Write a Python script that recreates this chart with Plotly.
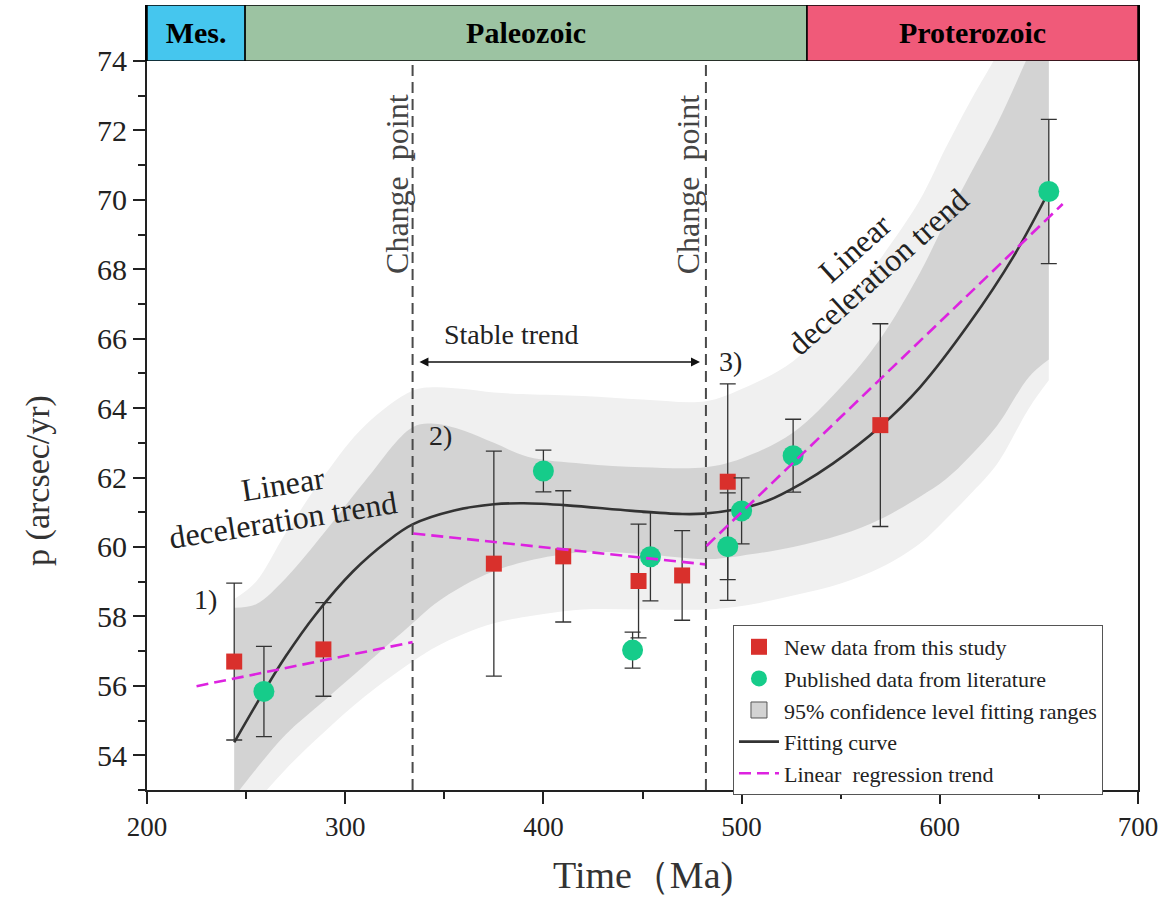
import plotly.graph_objects as go

# ---------------- data ----------------
new_x = [244, 289, 375, 410, 448, 470, 493, 570]
new_y = [56.70, 57.05, 59.52, 59.73, 59.02, 59.18, 61.88, 63.51]
new_err = [2.26, 1.35, 3.24, 1.89, 1.64, 1.29, 2.82, 2.92]

pub_x = [259, 400, 445, 454, 493, 500, 526, 655]
pub_y = [55.84, 62.19, 57.03, 59.72, 60.01, 61.04, 62.63, 70.24]
pub_err = [1.30, 0.60, 0.52, 1.27, 1.55, 0.95, 1.05, 2.08]

fit_x = [244, 259, 270, 285, 304, 321, 334, 355, 375, 390, 412, 445, 470, 481,
         496, 513, 530, 546, 570, 590, 615, 637, 655]
fit_y = [54.37, 55.84, 56.85, 58.05, 59.3, 60.15, 60.65, 61.05, 61.23, 61.26, 61.2,
         61.04, 60.95, 60.96, 61.07, 61.33, 61.82, 62.4, 63.47, 64.6, 66.45, 68.35, 70.24]

band_x = [244, 255, 270, 290, 310, 334, 345, 360, 375, 392, 420, 450, 482, 500,
          526, 550, 570, 590, 603, 615, 629, 645, 655]
inner_hi = [58.25, 58.35, 59.1, 60.45, 61.9, 63.45, 63.55, 63.35, 63.0, 62.6, 62.4,
            62.3, 62.3, 62.55, 63.3, 64.6, 66.0, 67.9, 69.4, 70.7, 72.2, 74.2, 75.5]
inner_lo = [52.8, 53.6, 54.6, 55.6, 56.6, 57.8, 58.35, 58.9, 59.3, 59.6, 59.85,
            59.8, 59.65, 59.75, 60.0, 60.35, 60.8, 61.45, 61.95, 62.6, 63.5, 64.9, 65.4]
outer_hi = [58.5, 59.0, 60.4, 62.1, 63.5, 64.5, 64.6, 64.55, 64.45, 64.4, 64.35,
            64.25, 64.2, 64.55, 65.35, 66.8, 68.3, 70.0, 71.5, 72.8, 74.2, 76.0, 77.0]
outer_lo = [51.5, 52.6, 53.6, 54.7, 55.7, 56.7, 57.1, 57.5, 57.8, 58.0, 58.2,
            58.2, 58.2, 58.3, 58.6, 58.95, 59.4, 60.1, 60.8, 61.5, 62.4, 64.0, 64.8]

trend1_x = [225, 334]
trend1_y = [55.99, 57.26]
trend2_x = [334.4, 481.6]
trend2_y = [60.39, 59.50]
trend3_x = [482.3, 662]
trend3_y = [60.03, 69.88]

change_points = [334, 482]

eras = ["Mes.", "Paleozoic", "Proterozoic"]
era_start = [200, 249.5, 533]
era_end = [249.5, 533, 700]
era_colors = ["#45C6EE", "#9CC3A2", "#F05A79"]

SERIF = "Liberation Serif, Times New Roman, serif"
MAGENTA = "#DD22E0"

fig = go.Figure()

# confidence bands
fig.add_trace(go.Scatter(x=band_x, y=outer_lo, mode="lines", line=dict(width=0, shape="spline"),
                         showlegend=False, hoverinfo="skip"))
fig.add_trace(go.Scatter(x=band_x, y=outer_hi, mode="lines", line=dict(width=0, shape="spline"),
                         fill="tonexty", fillcolor="#F0F0F0", showlegend=False, hoverinfo="skip"))
fig.add_trace(go.Scatter(x=band_x, y=inner_lo, mode="lines", line=dict(width=0, shape="spline"),
                         showlegend=False, hoverinfo="skip"))
fig.add_trace(go.Scatter(x=band_x, y=inner_hi, mode="lines", line=dict(width=0, shape="spline"),
                         fill="tonexty", fillcolor="#D3D3D3", showlegend=False, hoverinfo="skip"))
# legend entry for band
fig.add_trace(go.Scatter(x=[None], y=[None], mode="markers",
                         marker=dict(symbol="square", size=16, color="#D3D3D3",
                                     line=dict(color="#555555", width=1)),
                         name="95% confidence level fitting ranges", legendrank=3))

# fitting curve
fig.add_trace(go.Scatter(x=fit_x, y=fit_y, mode="lines",
                         line=dict(color="#333333", width=2.6, shape="spline"),
                         name="Fitting curve", legendrank=4))

# change point lines
for cp in change_points:
    fig.add_trace(go.Scatter(x=[cp, cp], y=[53, 74], mode="lines",
                             line=dict(color="#4A4A4A", width=2, dash="11px,6px"),
                             showlegend=False, hoverinfo="skip"))

# data
fig.add_trace(go.Scatter(x=new_x, y=new_y, mode="markers",
                         marker=dict(symbol="square", size=16, color="#D9302C"),
                         error_y=dict(type="data", array=new_err, color="#333333",
                                      thickness=1.3, width=8),
                         name="New data from this study", legendrank=1))
fig.add_trace(go.Scatter(x=pub_x, y=pub_y, mode="markers",
                         marker=dict(symbol="circle", size=21, color="#16CC8A"),
                         error_y=dict(type="data", array=pub_err, color="#333333",
                                      thickness=1.3, width=8),
                         name="Published data from literature", legendrank=2))

# linear regression trends
for i, (tx, ty) in enumerate([(trend1_x, trend1_y), (trend2_x, trend2_y), (trend3_x, trend3_y)]):
    fig.add_trace(go.Scatter(x=tx, y=ty, mode="lines",
                             line=dict(color=MAGENTA, width=2.6, dash="12px,6px"),
                             name="Linear  regression trend", legendgroup="trend",
                             showlegend=(i == 0), legendrank=5))

# era bar on top
for name, s, e, c in zip(eras, era_start, era_end, era_colors):
    fig.add_trace(go.Bar(y=[0], x=[e - s], base=[s], orientation="h", width=1,
                         marker=dict(color=c, line=dict(color="black", width=1.5)),
                         text=["<b>" + name + "</b>"], textposition="inside",
                         insidetextanchor="middle", textangle=0,
                         textfont=dict(family=SERIF, size=30, color="black"),
                         yaxis="y2", showlegend=False, hoverinfo="skip", cliponaxis=False))

ann_font = dict(family=SERIF, size=28, color="#222222")
big_font = dict(family=SERIF, size=32, color="#222222")
cp_font = dict(family=SERIF, size=32, color="#444444")
annotations = [
    dict(x=326, y=70.45, text="Change\u00a0\u00a0point", textangle=-90, showarrow=False, font=cp_font),
    dict(x=473, y=70.45, text="Change\u00a0\u00a0point", textangle=-90, showarrow=False, font=cp_font),
    dict(x=384, y=66.13, text="Stable trend", showarrow=False, font=ann_font),
    dict(x=479, y=65.33, ax=336.7, ay=65.33, axref="x", ayref="y", text="",
         showarrow=True, arrowhead=2, arrowside="end+start", arrowsize=1.2,
         arrowwidth=1.5, arrowcolor="#111111"),
    dict(x=229.3, y=58.5, text="1)", showarrow=False, font=ann_font),
    dict(x=348.3, y=63.2, text="2)", showarrow=False, font=ann_font),
    dict(x=494.6, y=65.35, text="3)", showarrow=False, font=ann_font),
    dict(x=268.6, y=61.81, text="Linear", textangle=-9, showarrow=False, font=big_font),
    dict(x=268.6, y=60.77, text="deceleration trend", textangle=-9, showarrow=False, font=big_font),
    dict(x=557.2, y=68.61, text="Linear", textangle=-42, showarrow=False, font=big_font),
    dict(x=568.8, y=67.92, text="deceleration trend", textangle=-42, showarrow=False, font=big_font),
    dict(xref="paper", yref="paper", x=0.5, y=-0.109, xanchor="center", yanchor="middle",
         text="Time（Ma)", showarrow=False,
         font=dict(family=SERIF, size=38, color="#333333")),
    dict(xref="paper", yref="paper", x=-0.11, y=0.395, xanchor="center", yanchor="middle",
         text="p (arcsec/yr)", textangle=-90,
         showarrow=False, font=dict(family=SERIF, size=34, color="#333333")),
]
for a in annotations:
    a.setdefault("xref", "x")
    a.setdefault("yref", "y")

fig.update_layout(
    width=1173, height=901,
    margin=dict(l=147, r=35, t=5, b=111, autoexpand=False),
    paper_bgcolor="white", plot_bgcolor="white",
    barmode="overlay",
    font=dict(family=SERIF, color="#222222"),
    annotations=annotations,
    legend=dict(x=0.5913, y=0.2102, xanchor="left", yanchor="top",
                bgcolor="white", bordercolor="#555555", borderwidth=1,
                font=dict(family=SERIF, size=22, color="#222222"),
                tracegroupgap=0, itemwidth=40),
    xaxis=dict(range=[200, 700], dtick=100, tick0=200, ticks="outside", ticklen=12,
               tickwidth=2, tickcolor="#222222", showline=True, linecolor="#222222",
               linewidth=2, mirror=True, showgrid=False, zeroline=False,
               minor=dict(dtick=50, ticklen=7, tickwidth=2, tickcolor="#222222", ticks="outside"),
               tickfont=dict(family=SERIF, size=27, color="#222222"), anchor="y"),
    yaxis=dict(domain=[0, 0.9287], range=[53, 74], dtick=2, tick0=54, ticks="outside",
               ticklen=12, tickwidth=2, tickcolor="#222222", showline=True,
               linecolor="#222222", linewidth=2, mirror=True, showgrid=False,
               zeroline=False,
               minor=dict(dtick=1, ticklen=7, tickwidth=2, tickcolor="#222222", ticks="outside"),
               tickfont=dict(family=SERIF, size=30, color="#222222"), anchor="x"),
    yaxis2=dict(domain=[0.9287, 1], range=[-0.5, 0.5], showticklabels=False, ticks="",
                showline=True, linecolor="black", linewidth=2, mirror=True,
                showgrid=False, zeroline=False, anchor="x", fixedrange=True),
)

fig.write_html("out.html")
